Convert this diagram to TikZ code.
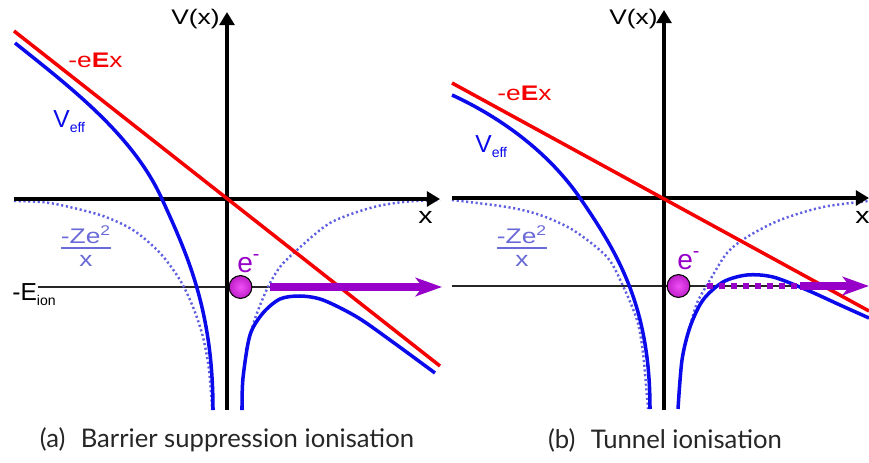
\documentclass[tikz,border=0pt]{standalone}
\usepackage{fontspec}
\usepackage{tikz}
\usetikzlibrary{arrows.meta}
\newfontfamily\lblfont[FakeStretch=1.25]{Liberation Sans}
\newfontfamily\plainfont{Liberation Sans}
\newfontfamily\capfont{Lato}
\definecolor{fieldred}{RGB}{245,0,0}
\definecolor{veffblue}{RGB}{10,10,235}
\definecolor{coulblue}{RGB}{95,95,225}
\definecolor{fraclabel}{RGB}{105,105,215}
\definecolor{elecpurple}{RGB}{150,0,200}
\definecolor{eleclight}{RGB}{240,80,245}
\definecolor{elecdark}{RGB}{190,30,200}
\setlength{\arrayrulewidth}{1pt}
\newcommand{\lowsub}[1]{\raisebox{-3pt}{\fontsize{8}{9}\selectfont #1}}

\begin{document}
\begin{tikzpicture}[x=0.02cm, y=-0.02cm,
        axis/.style={line width=2.2pt, -{Triangle[length=7.5pt,width=8.5pt]}},
        field/.style={line width=2pt, draw=fieldred},
        veff/.style={line width=2pt, draw=veffblue},
        coul/.style={line width=1.4pt, draw=coulblue, dash pattern=on 1.2pt off 1.5pt},
        level/.style={line width=1pt, draw=black!85},
        elec/.style={circle, draw=black, line width=0.6pt, minimum size=13pt, inner sep=0pt, inner color=eleclight, outer color=elecdark},
        escape/.style={line width=4pt, draw=elecpurple, -{Stealth[length=15pt,width=10.5pt,inset=4pt]}},
        tunnel/.style={line width=3.4pt, draw=elecpurple, dash pattern=on 3.4pt off 3.4pt},
        lbl/.style={inner sep=0pt, font=\lblfont\fontsize{12}{14}\selectfont},
        big/.style={inner sep=0pt, font=\plainfont\fontsize{14}{16}\selectfont},
        caption/.style={inner sep=0pt, font=\capfont\fontsize{14.6}{17}\selectfont, text=black!85}
    ]
        \useasboundingbox (0,0) rectangle (869,463);

        % (a) barrier suppression
        \draw[level] (38,287) -- (270,287);
        \draw[coul] plot[smooth] coordinates {(14,201) (50,203) (100,215) (133,230) (160,253) (180,280) (193,307) (203,337) (209,370) (212,408)};
        \draw[coul] plot[smooth] coordinates {(246,350) (250,335) (257,313) (268,287) (280,267) (297,250) (330,223) (370,208) (403,202) (440,200)};
        \draw[axis] (14,199) -- (440,199);
        \draw[axis] (227,410) -- (227,12);
        \draw[field] (14,31) -- (440,366);
        \draw[veff] (15,43) .. controls (70,87) and (133,135) .. (162,199) .. controls (187,254) and (213,310) .. (213,410);
        \draw[veff] plot[smooth] coordinates {(242,410) (243,378) (250,335) (263,313) (280,299) (300,296) (323,300) (357,317) (390,340) (435,373)};
        \node[elec] (elecA) at (240.5,287) {};
        \coordinate (outA) at (270,287);
        \coordinate (freeA) at (442,287);
        \draw[escape] (outA) -- (freeA);

        \node[lbl, anchor=base west] (vxA) at (171,25) {V(x)};
        \node[lbl, anchor=base west, font=\lblfont\fontsize{13}{15}\selectfont] (xA) at (418,223) {x};
        \node[lbl, anchor=base west, text=fieldred] (eexA) at (68,67) {-e\textbf{E}x};
        \node[big, anchor=base west, text=veffblue] (veffA) at (53,127) {V\lowsub{eff}};
        \node[lbl, text=fraclabel] (zeA) at (86,250) {\begin{tabular}{@{}c@{}}-Ze\textsuperscript{2}\\[-2pt]\hline\rule{0pt}{10pt}x\end{tabular}};
        \node[big, anchor=base west] (eionA) at (12,300) {-E\lowsub{ion}};
        \node[big, anchor=base west, text=elecpurple, font=\plainfont\fontsize{16}{18}\selectfont] (eA) at (237,272) {e\textsuperscript{-}};
        \node[caption] (capA) at (227,440) {(a)\hspace{0.6em}Barrier suppression ionisation};

        % (b) tunnel
        \draw[level] (452,286) -- (805,286);
        \draw[coul] plot[smooth] coordinates {(452,200) (507,207) (540,215) (573,230) (607,257) (623,286) (637,320) (643,353) (648,409)};
        \draw[coul] plot[smooth] coordinates {(689,330) (697,303) (710,280) (727,253) (747,237) (780,220) (823,207) (869,201)};
        \draw[axis] (452,198) -- (869,198);
        \draw[axis] (664,410) -- (664,10);
        \draw[field] (452,83) -- (869,311);
        \draw[veff] (452,95) .. controls (502,118) and (549,153) .. (580,198) .. controls (620,256) and (650,309) .. (650,409);
        \draw[veff] plot[smooth] coordinates {(678,409) (682,360) (690,327) (703,300) (723,282) (747,275) (773,277) (807,290) (840,305) (869,318)};
        \node[elec] (elecB) at (678.5,286) {};
        \coordinate (outB) at (707,286);
        \coordinate (exitB) at (800,286);
        \coordinate (freeB) at (869,286);
        \draw[tunnel] (outB) -- (exitB);
        \draw[escape] (exitB) -- (freeB);

        \node[lbl, anchor=base west] (vxB) at (609,25) {V(x)};
        \node[lbl, anchor=base west, font=\lblfont\fontsize{13}{15}\selectfont] (xB) at (855,223) {x};
        \node[lbl, anchor=base west, text=fieldred] (eexB) at (497,100) {-e\textbf{E}x};
        \node[big, anchor=base west, text=veffblue] (veffB) at (475,152) {V\lowsub{eff}};
        \node[lbl, text=fraclabel] (zeB) at (522,250) {\begin{tabular}{@{}c@{}}-Ze\textsuperscript{2}\\[-2pt]\hline\rule{0pt}{10pt}x\end{tabular}};
        \node[big, anchor=base west, text=elecpurple, font=\plainfont\fontsize{16}{18}\selectfont] (eB) at (677,269) {e\textsuperscript{-}};
        \node[caption] (capB) at (665,440) {(b)\hspace{0.6em}Tunnel ionisation};
    \end{tikzpicture}
\end{document}
